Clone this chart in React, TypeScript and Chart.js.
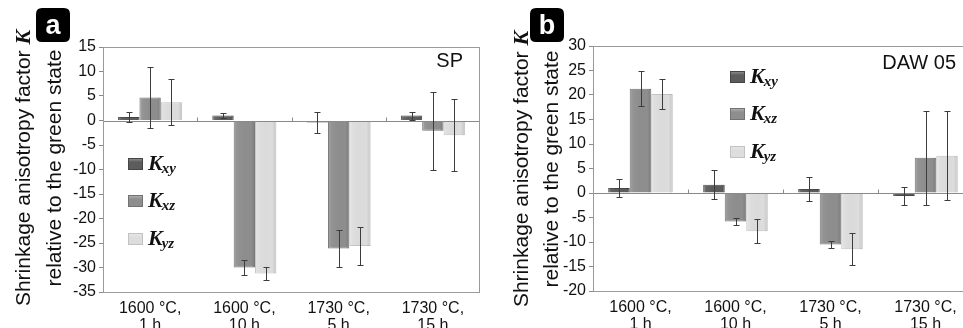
import React, { useEffect, useRef } from 'react';
import { Chart, registerables } from 'chart.js';

Chart.register(...registerables);

// ---------- data ----------
const categories = [
  ['1600 °C,', '1 h'],
  ['1600 °C,', '10 h'],
  ['1730 °C,', '5 h'],
  ['1730 °C,', '15 h'],
];
const seriesSubscripts = ['xy', 'xz', 'yz'];

// panel a: SP
const spKxy = [0.7, 1.0, -0.4, 1.0];
const spKxz = [4.7, -30.0, -26.1, -2.1];
const spKyz = [3.7, -31.2, -25.6, -3.0];
const spKxyErr = [1.0, 0.5, 2.2, 0.8];
const spKxzErr = [6.3, 1.6, 3.7, 8.0];
const spKyzErr = [4.7, 1.3, 3.9, 7.3];
const spAxis = { min: -35, max: 15, step: 5 };

// panel b: DAW 05
const dawKxy = [1.0, 1.7, 0.8, -0.6];
const dawKxz = [21.3, -5.8, -10.5, 7.2];
const dawKyz = [20.2, -7.8, -11.5, 7.6];
const dawKxyErr = [1.8, 2.9, 2.5, 1.85];
const dawKxzErr = [3.5, 0.8, 0.65, 9.6];
const dawKyzErr = [3.1, 2.45, 3.25, 9.1];
const dawAxis = { min: -20, max: 30, step: 5 };

// ---------- styles ----------
const SANS = '"Liberation Sans", Arial, sans-serif';
const SERIF = '"Liberation Serif", "Times New Roman", serif';
const fills = ['#5c5c5c', '#8e8e8e', '#dddddd'];
const borders = ['#454545', '#727272', '#c2c2c2'];

type Panel = {
  letter: string;
  name: string;
  values: number[][];
  errors: number[][];
  axis: { min: number; max: number; step: number };
  canvasWidth: number;
  left: number;
  top: number;
  right: number;
  xHeight: number;
  yWidth: number;
  titleX1: number;
  titleX2: number;
  titleCY: number;
  boxX: number;
  legendX: number;
  legendBase: number[];
  nameBaseline: number;
};

const panels: Panel[] = [
  {
    letter: 'a',
    name: 'SP',
    values: [spKxy, spKxz, spKyz],
    errors: [spKxyErr, spKxzErr, spKyzErr],
    axis: spAxis,
    canvasWidth: 481,
    left: 0,
    top: 47,
    right: 1,
    xHeight: 36,
    yWidth: 103,
    titleX1: 30,
    titleX2: 61,
    titleCY: 168,
    boxX: 36,
    legendX: 128,
    legendBase: [170, 207, 245],
    nameBaseline: 67,
  },
  {
    letter: 'b',
    name: 'DAW 05',
    values: [dawKxy, dawKxz, dawKyz],
    errors: [dawKxyErr, dawKxzErr, dawKyzErr],
    axis: dawAxis,
    canvasWidth: 500,
    left: 480,
    top: 46,
    right: 7,
    xHeight: 37,
    yWidth: 113,
    titleX1: 48,
    titleX2: 78,
    titleCY: 169,
    boxX: 50,
    legendX: 250,
    legendBase: [83, 120, 158],
    nameBaseline: 69,
  },
];

function roundRect(ctx: CanvasRenderingContext2D, x: number, y: number, w: number, h: number, r: number) {
  ctx.beginPath();
  ctx.moveTo(x + r, y);
  ctx.lineTo(x + w - r, y);
  ctx.quadraticCurveTo(x + w, y, x + w, y + r);
  ctx.lineTo(x + w, y + h - r);
  ctx.quadraticCurveTo(x + w, y + h, x + w - r, y + h);
  ctx.lineTo(x + r, y + h);
  ctx.quadraticCurveTo(x, y + h, x, y + h - r);
  ctx.lineTo(x, y + r);
  ctx.quadraticCurveTo(x, y, x + r, y);
  ctx.closePath();
}

function makePlugin(p: Panel) {
  return {
    id: 'decor' + p.letter,
    afterDatasetsDraw(chart: any) {
      const ctx: CanvasRenderingContext2D = chart.ctx;
      const area = chart.chartArea;
      const ys = chart.scales.y;
      const zeroY = Math.round(ys.getPixelForValue(0)) + 0.5;

      // bar shading (bevel look)
      chart.data.datasets.forEach((_: any, di: number) => {
        const meta = chart.getDatasetMeta(di);
        meta.data.forEach((el: any) => {
          const l = el.x - el.width / 2;
          const top = Math.min(el.y, el.base);
          const h = Math.abs(el.base - el.y);
          const g = ctx.createLinearGradient(l, 0, l + el.width, 0);
          g.addColorStop(0, 'rgba(255,255,255,0.22)');
          g.addColorStop(0.15, 'rgba(255,255,255,0.05)');
          g.addColorStop(0.8, 'rgba(0,0,0,0)');
          g.addColorStop(1, 'rgba(0,0,0,0.12)');
          ctx.save();
          ctx.fillStyle = g;
          ctx.fillRect(l + 1, top, el.width - 2, h);
          ctx.restore();
        });
      });

      // zero line
      ctx.save();
      ctx.strokeStyle = '#8a8a8a';
      ctx.lineWidth = 1;
      ctx.beginPath();
      ctx.moveTo(area.left, zeroY);
      ctx.lineTo(area.right, zeroY);
      ctx.stroke();
      // category boundary ticks on zero line
      const n = chart.data.labels.length;
      const cw = (area.right - area.left) / n;
      for (let i = 1; i < n; i++) {
        const x = Math.round(area.left + i * cw) + 0.5;
        ctx.beginPath();
        ctx.moveTo(x, zeroY - 4);
        ctx.lineTo(x, zeroY);
        ctx.stroke();
      }
      // plot border
      ctx.strokeStyle = '#9a9a9a';
      ctx.strokeRect(Math.round(area.left) + 0.5, Math.round(area.top) + 0.5,
        Math.round(area.right - area.left) - 1, Math.round(area.bottom - area.top));
      ctx.restore();

      // error bars
      ctx.save();
      ctx.strokeStyle = '#3c3c3c';
      ctx.lineWidth = 1;
      chart.data.datasets.forEach((_: any, di: number) => {
        const meta = chart.getDatasetMeta(di);
        meta.data.forEach((el: any, i: number) => {
          const v = p.values[di][i];
          const e = p.errors[di][i];
          const x = Math.round(el.x) + 0.5;
          const y1 = Math.round(ys.getPixelForValue(v + e)) + 0.5;
          const y2 = Math.round(ys.getPixelForValue(v - e)) + 0.5;
          ctx.beginPath();
          ctx.moveTo(x, y1);
          ctx.lineTo(x, y2);
          ctx.moveTo(x - 3, y1);
          ctx.lineTo(x + 3, y1);
          ctx.moveTo(x - 3, y2);
          ctx.lineTo(x + 3, y2);
          ctx.stroke();
        });
      });
      ctx.restore();
    },
    afterDraw(chart: any) {
      const ctx: CanvasRenderingContext2D = chart.ctx;
      const area = chart.chartArea;

      // rotated axis title
      ctx.save();
      ctx.fillStyle = '#111';
      ctx.textBaseline = 'alphabetic';
      ctx.textAlign = 'left';
      const fSans = '21px ' + SANS;
      const fK = 'bold italic 22px ' + SERIF;
      ctx.font = fSans;
      const t1 = 'Shrinkage anisotropy factor ';
      const w1 = ctx.measureText(t1).width;
      ctx.font = fK;
      const wK = ctx.measureText('K').width;
      ctx.translate(p.titleX1, p.titleCY);
      ctx.rotate(-Math.PI / 2);
      const start1 = -(w1 + wK) / 2;
      ctx.font = fSans;
      ctx.fillText(t1, start1, 0);
      ctx.font = fK;
      ctx.fillText('K', start1 + w1, 0);
      ctx.restore();

      ctx.save();
      ctx.fillStyle = '#111';
      ctx.font = fSans;
      ctx.textAlign = 'center';
      ctx.textBaseline = 'alphabetic';
      ctx.translate(p.titleX2, p.titleCY);
      ctx.rotate(-Math.PI / 2);
      ctx.fillText('relative to the green state', 0, 0);
      ctx.restore();

      // panel letter box
      ctx.save();
      ctx.fillStyle = '#000';
      roundRect(ctx, p.boxX, 8, 34, 34, 6);
      ctx.fill();
      ctx.fillStyle = '#fff';
      ctx.font = 'bold 27px ' + SANS;
      ctx.textAlign = 'center';
      ctx.textBaseline = 'alphabetic';
      ctx.fillText(p.letter, p.boxX + 17, 34);
      ctx.restore();

      // sample name
      ctx.save();
      ctx.fillStyle = '#111';
      ctx.font = '20px ' + SANS;
      ctx.textAlign = 'right';
      ctx.fillText(p.name, area.right - 17, p.nameBaseline);
      ctx.restore();

      // legend
      seriesSubscripts.forEach((sub, i) => {
        const base = p.legendBase[i];
        const sx = p.legendX;
        const sy = base - 12;
        ctx.save();
        const g = ctx.createLinearGradient(0, sy, 0, sy + 12);
        g.addColorStop(0, 'rgba(255,255,255,0.35)');
        g.addColorStop(0.35, 'rgba(255,255,255,0)');
        ctx.fillStyle = fills[i];
        ctx.fillRect(sx, sy, 15, 12);
        ctx.fillStyle = g;
        ctx.fillRect(sx, sy, 15, 12);
        ctx.strokeStyle = borders[i];
        ctx.lineWidth = 1;
        ctx.strokeRect(sx + 0.5, sy + 0.5, 14, 11);
        ctx.fillStyle = '#111';
        ctx.textAlign = 'left';
        ctx.textBaseline = 'alphabetic';
        ctx.font = 'bold italic 22px ' + SERIF;
        const kx = sx + 20;
        ctx.fillText('K', kx, base);
        const kw = ctx.measureText('K').width;
        ctx.font = 'bold italic 15px ' + SERIF;
        ctx.fillText(sub, kx + kw - 1, base + 3);
        ctx.restore();
      });
    },
  };
}

function makeChart(canvas: HTMLCanvasElement, p: Panel) {
  return new Chart(canvas, {
    type: 'bar',
    data: {
      labels: categories,
      datasets: seriesSubscripts.map((s, i) => ({
        label: 'K' + s,
        data: p.values[i],
        backgroundColor: fills[i],
        borderColor: borders[i],
        borderWidth: 1,
        barPercentage: 1,
        categoryPercentage: 0.68,
      })),
    },
    options: {
      responsive: false,
      animation: false,
      devicePixelRatio: 1,
      layout: { padding: { top: p.top, right: p.right, left: 0, bottom: 0 } },
      plugins: { legend: { display: false }, tooltip: { enabled: false } },
      scales: {
        x: {
          grid: { display: false, drawTicks: false, tickLength: 0 },
          border: { display: false },
          ticks: {
            color: '#111',
            font: { family: SANS, size: 16, lineHeight: '17px' },
            padding: 8,
            maxRotation: 0,
            autoSkip: false,
          },
          afterFit: (s: any) => {
            s.height = p.xHeight;
          },
        },
        y: {
          min: p.axis.min,
          max: p.axis.max,
          ticks: {
            stepSize: p.axis.step,
            color: '#111',
            font: { family: SANS, size: 16 },
            padding: 3,
          },
          grid: { drawOnChartArea: false, drawTicks: true, tickLength: 4, color: '#8a8a8a' },
          border: { display: false },
          afterFit: (s: any) => {
            s.width = p.yWidth;
          },
        },
      },
    } as any,
    plugins: [makePlugin(p)],
  });
}

function PanelChart({ p }: { p: Panel }) {
  const ref = useRef<HTMLCanvasElement | null>(null);
  useEffect(() => {
    if (!ref.current) return;
    const c = makeChart(ref.current, p);
    return () => c.destroy();
  }, [p]);
  return (
    <canvas
      ref={ref}
      width={p.canvasWidth}
      height={328}
      style={{ position: 'absolute', left: p.left, top: 0, width: p.canvasWidth, height: 328 }}
    />
  );
}

export default function App() {
  return (
    <div
      style={{
        position: 'absolute',
        left: 0,
        top: 0,
        width: 963,
        height: 328,
        overflow: 'hidden',
        background: '#fff',
      }}
    >
      {panels.map((p) => (
        <PanelChart key={p.letter} p={p} />
      ))}
    </div>
  );
}
